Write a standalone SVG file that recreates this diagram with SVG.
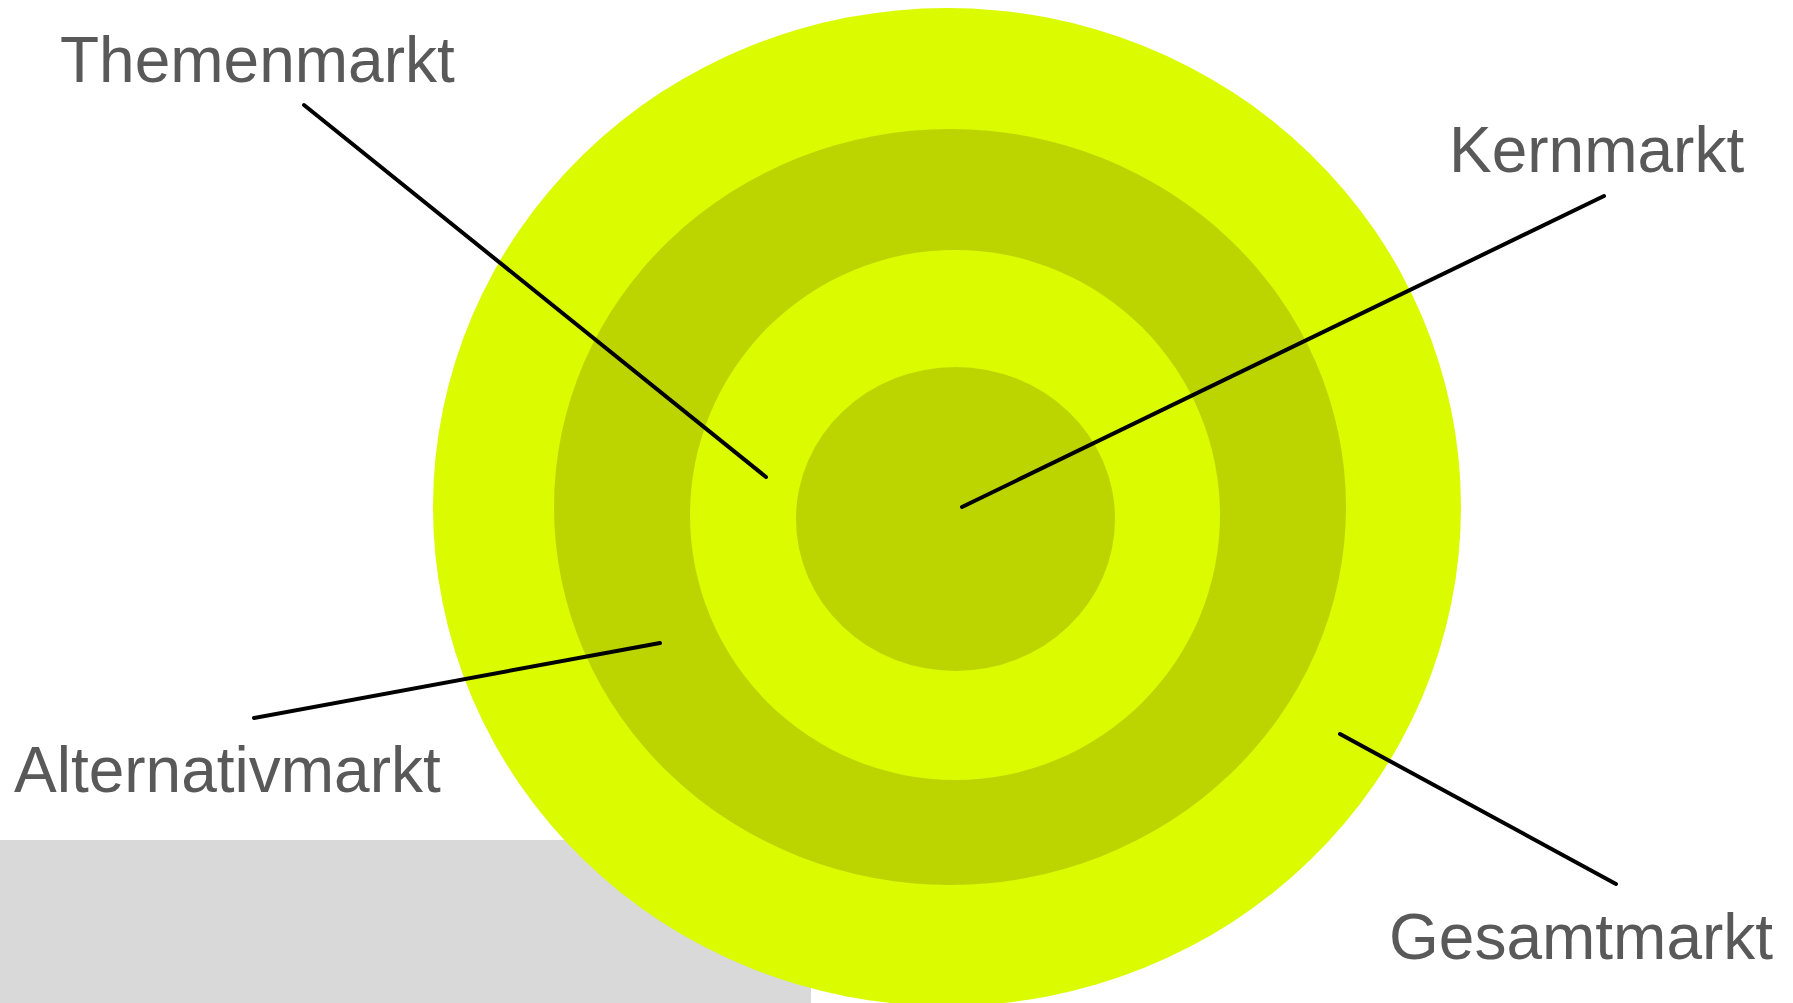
<svg xmlns="http://www.w3.org/2000/svg" width="1793" height="1003" viewBox="0 0 1793 1003">
<style>
.lbl{font-family:"Liberation Sans",Arial,sans-serif;font-size:64px;fill:#595959}
.bright{fill:#dafb00}
.dark{fill:#bcd500}
.conn line{stroke:#000;stroke-width:4;stroke-linecap:round}
</style>
<rect width="1793" height="1003" fill="#fff"/>
<rect id="gray-area" x="0" y="840" width="811" height="163" fill="#d9d9d9"/>
<g id="gesamtmarkt-ring"><ellipse class="bright" cx="947" cy="507" rx="514" ry="499"/></g>
<g id="alternativmarkt-ring"><ellipse class="dark" cx="950" cy="507" rx="396" ry="378"/></g>
<g id="themenmarkt-ring"><ellipse class="bright" cx="955" cy="515" rx="265" ry="265"/></g>
<g id="kernmarkt-core"><ellipse class="dark" cx="955.5" cy="519" rx="159.5" ry="152"/></g>
<g class="conn" id="connectors">
<line x1="304" y1="105" x2="766" y2="477"/>
<line x1="1604" y1="196" x2="962" y2="507"/>
<line x1="254" y1="718" x2="660" y2="643"/>
<line x1="1340" y1="734" x2="1616" y2="884"/>
</g>
<g id="label-themenmarkt"><text class="lbl" x="60" y="82">Themenmarkt</text></g>
<g id="label-kernmarkt"><text class="lbl" x="1449" y="172">Kernmarkt</text></g>
<g id="label-alternativmarkt"><text class="lbl" x="14" y="792">Alternativmarkt</text></g>
<g id="label-gesamtmarkt"><text class="lbl" x="1389" y="959">Gesamtmarkt</text></g>
</svg>
